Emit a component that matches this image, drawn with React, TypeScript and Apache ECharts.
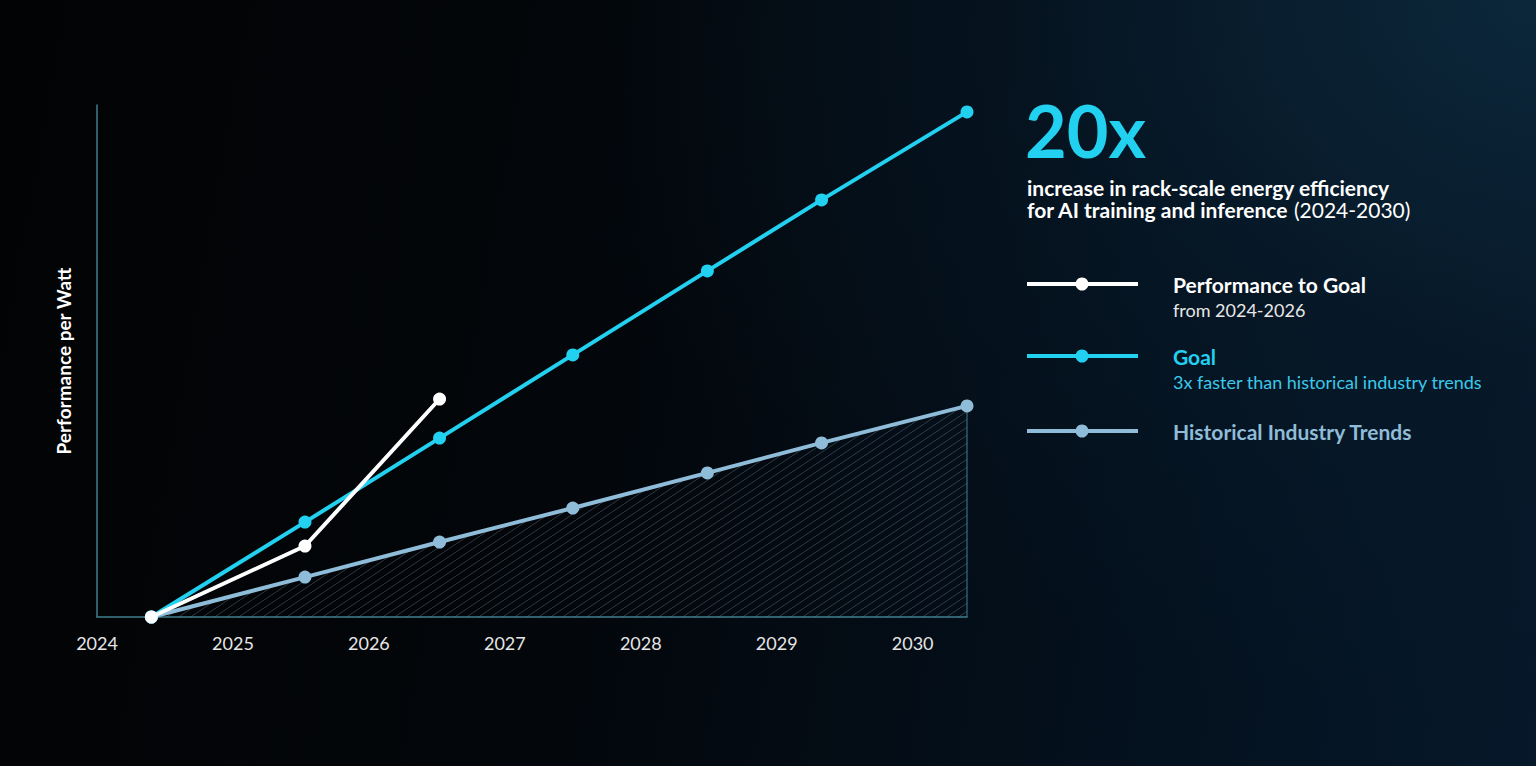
import React, { useEffect, useRef } from "react";
import * as echarts from "echarts";

// ---- data ----
const goalYears = [2024.4, 2025.53, 2026.52, 2027.5, 2028.49, 2029.33, 2030.4];
const goalValues = [1, 4.57, 7.73, 10.86, 14.02, 16.69, 20];
const historicalYears = [2024.4, 2025.53, 2026.52, 2027.5, 2028.49, 2029.33, 2030.4];
const historicalValues = [1, 2.5, 3.82, 5.1, 6.42, 7.55, 8.94];
const performanceYears = [2024.4, 2025.53, 2026.52];
const performanceValues = [1, 3.67, 9.2];
const tickYears = [2024, 2025, 2026, 2027, 2028, 2029, 2030];

const headline = "20x";
const subtitleLine1 = "increase in rack-scale energy efficiency";
const subtitleLine2Bold = "for AI training and inference";
const subtitleLine2Regular = " (2024-2030)";
const legendItems = [
  { name: "Performance to Goal", note: "from 2024-2026" },
  { name: "Goal", note: "3x faster than historical industry trends" },
  { name: "Historical Industry Trends", note: "" },
];
const yAxisName = "Performance per Watt";

const WHITE = "#ffffff";
const CYAN = "#22d0f0";
const STEEL = "#8fbcd8";
const AXIS = "#3f7f8f";
const FONT = "Lato, 'Noto Sans', sans-serif";

function makeHatch(): HTMLCanvasElement {
  const c = document.createElement("canvas");
  c.width = 12;
  c.height = 8;
  const ctx = c.getContext("2d")!;
  ctx.strokeStyle = "rgba(110,125,140,0.42)";
  ctx.lineWidth = 1;
  ctx.beginPath();
  ctx.moveTo(-3, 10);
  ctx.lineTo(15, -2);
  ctx.stroke();
  return c;
}

export default function App() {
  const ref = useRef<HTMLDivElement>(null);
  useEffect(() => {
    if (!ref.current) return;
    const chart = echarts.init(ref.current, null, { renderer: "svg" });
    const zip = (xs: number[], ys: number[]) => xs.map((x, i) => [x, ys[i]]);
    const lastX = historicalYears[historicalYears.length - 1];
    const lastY = historicalValues[historicalValues.length - 1];
    const legendX = 1027;
    const legendYs = [284, 356, 431];
    const legendColors = [WHITE, CYAN, STEEL];
    const graphics: any[] = [
      {
        type: "text",
        x: 1025,
        y: 129.5,
        style: {
          text: headline,
          fill: CYAN,
          font: `bold 72px ${FONT}`,
          verticalAlign: "middle",
        },
      },
      {
        type: "text",
        x: 1027,
        y: 187,
        style: {
          text: subtitleLine1,
          fill: WHITE,
          font: `bold 21px ${FONT}`,
          verticalAlign: "middle",
        },
      },
      {
        type: "text",
        x: 1027,
        y: 209,
        style: {
          text: `{b|${subtitleLine2Bold}}{r|${subtitleLine2Regular}}`,
          verticalAlign: "middle",
          rich: {
            b: { fill: WHITE, font: `bold 21px ${FONT}` },
            r: { fill: WHITE, font: `21px ${FONT}` },
          },
        },
      },
    ];
    legendItems.forEach((it, i) => {
      const y = legendYs[i];
      const col = legendColors[i];
      graphics.push({
        type: "line",
        shape: { x1: legendX, y1: y, x2: legendX + 111, y2: y },
        style: { stroke: col, lineWidth: 4 },
      });
      graphics.push({
        type: "circle",
        shape: { cx: legendX + 55, cy: y, r: 6.5 },
        style: { fill: col },
      });
      graphics.push({
        type: "text",
        x: 1173,
        y: y,
        style: {
          text: it.name,
          fill: col,
          font: `bold 21px ${FONT}`,
          verticalAlign: "middle",
        },
      });
      if (it.note) {
        graphics.push({
          type: "text",
          x: 1173,
          y: y + 26,
          style: {
            text: it.note,
            fill: i === 1 ? "#3cc8e8" : "#e8e8e8",
            font: `18px ${FONT}`,
            verticalAlign: "middle",
          },
        });
      }
    });

    chart.setOption({
      animation: false,
      backgroundColor: "transparent",
      grid: { left: 97, top: 105, width: 870, height: 512 },
      xAxis: {
        type: "value",
        min: 2024,
        max: 2030.4,
        interval: 1,
        axisLine: { show: true, onZero: false, lineStyle: { color: AXIS, width: 1.5 } },
        axisTick: { show: false },
        splitLine: { show: false },
        axisLabel: {
          color: "#e6e6e6",
          fontFamily: FONT,
          fontSize: 18,
          margin: 17,
          showMaxLabel: false,
          formatter: (v: number) =>
            tickYears.includes(Math.round(v)) && Math.abs(v - Math.round(v)) < 1e-6 ? String(Math.round(v)) : "",
        },
      },
      yAxis: {
        type: "value",
        min: 1,
        max: 20.26,
        name: yAxisName,
        nameLocation: "middle",
        nameGap: 24,
        nameRotate: 90,
        nameTextStyle: { color: WHITE, fontFamily: FONT, fontSize: 19, fontWeight: "bold" },
        axisLine: { show: true, lineStyle: { color: AXIS, width: 1.5 } },
        axisTick: { show: false },
        axisLabel: { show: false },
        splitLine: { show: false },
      },
      graphic: graphics,
      series: [
        {
          name: "Historical edge",
          type: "line",
          data: [
            [lastX, 1],
            [lastX, lastY],
          ],
          symbol: "none",
          lineStyle: { color: AXIS, width: 1 },
          silent: true,
          z: 1,
        },
        {
          name: "Historical Industry Trends",
          type: "line",
          data: zip(historicalYears, historicalValues),
          symbol: "circle",
          symbolSize: 13,
          itemStyle: { color: STEEL },
          lineStyle: { color: STEEL, width: 4 },
          areaStyle: { color: { image: makeHatch(), repeat: "repeat" } as any, opacity: 1, origin: "start" },
          z: 2,
        },
        {
          name: "Goal",
          type: "line",
          data: zip(goalYears, goalValues),
          symbol: "circle",
          symbolSize: 13,
          itemStyle: { color: CYAN },
          lineStyle: { color: CYAN, width: 4 },
          z: 3,
        },
        {
          name: "Performance to Goal",
          type: "line",
          data: zip(performanceYears, performanceValues),
          symbol: "circle",
          symbolSize: 13,
          itemStyle: { color: WHITE },
          lineStyle: { color: WHITE, width: 4 },
          z: 4,
        },
      ],
    });
    return () => chart.dispose();
  }, []);
  return (
    <div
      style={{
        position: "fixed",
        left: 0,
        top: 0,
        width: "100vw",
        height: "100vh",
        background:
          "radial-gradient(ellipse 65% 95% at 100% 0%, rgba(13,42,62,0.85) 0%, rgba(8,28,44,0.45) 50%, rgba(0,0,0,0) 100%), linear-gradient(100deg, #020304 0%, #03060a 38%, #04101c 72%, #06182a 100%)",
      }}
    >
      <div ref={ref} style={{ width: "100%", height: "100%" }} />
    </div>
  );
}
